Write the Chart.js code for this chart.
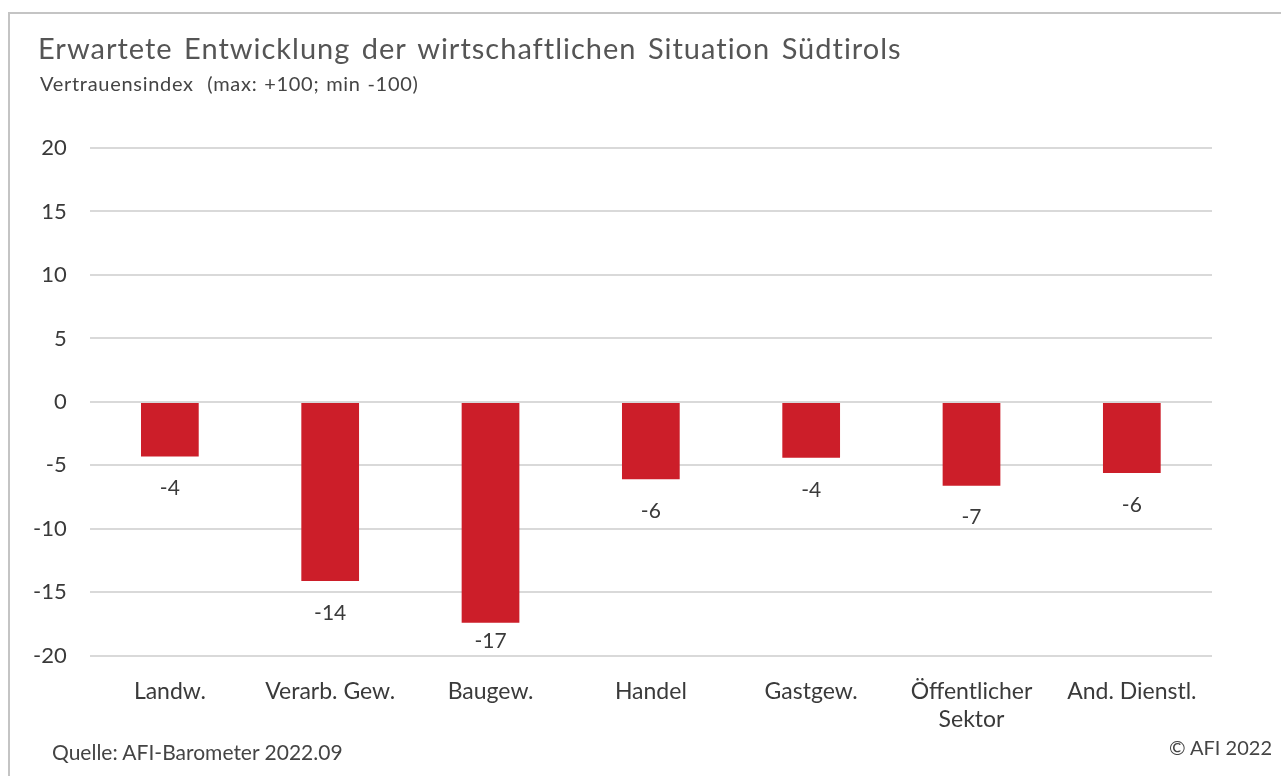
<!DOCTYPE html>
<html>
<head>
<meta charset="utf-8">
<script src="https://cdn.jsdelivr.net/npm/chart.js@4/dist/chart.umd.min.js"></script>
<style>
  html, body { margin: 0; padding: 0; background: #fff; }
  #wrap { position: relative; width: 1281px; height: 776px; overflow: hidden; font-family: Lato, 'Noto Sans', sans-serif; }
  #frame { position: absolute; left: 8px; top: 12px; width: 1290px; height: 800px; border-top: 2px solid #c4c4c4; border-left: 2px solid #c4c4c4; }
  #title { position: absolute; left: 38px; top: 30px; font-size: 29px; letter-spacing: 1px; word-spacing: 3px; color: #555; white-space: nowrap; }
  #subtitle { position: absolute; left: 40px; top: 71px; font-size: 20px; letter-spacing: 0.7px; word-spacing: 1px; color: #444; white-space: nowrap; }
  #source { position: absolute; left: 52px; top: 739px; font-size: 21px; color: #444; }
  #copy { position: absolute; right: 9px; top: 735px; font-size: 20px; color: #444; }
  canvas { position: absolute; left: 0; top: 0; }
</style>
</head>
<body>
<div id="wrap">
  <div id="frame"></div>
  <canvas id="chart" width="1281" height="776"></canvas>
  <div id="title">Erwartete Entwicklung der wirtschaftlichen Situation Südtirols</div>
  <div id="subtitle">Vertrauensindex&nbsp; (max: +100; min -100)</div>
  <div id="source">Quelle: AFI-Barometer 2022.09</div>
  <div id="copy">© AFI 2022</div>
</div>
<script>
const categories = ['Landw.', 'Verarb. Gew.', 'Baugew.', 'Handel', 'Gastgew.', ['Öffentlicher', 'Sektor'], 'And. Dienstl.'];
const values = [-4.3, -14.1, -17.4, -6.1, -4.4, -6.6, -5.6];
const labelValues = [-4, -14, -17, -6, -4, -7, -6];
const yTicks = [-20, -15, -10, -5, 0, 5, 10, 15, 20];

const BAR_RED = '#cc1e29';
const TEXT = '#3a3a3a';

// draws the rounded value under each bar, kept above the bottom gridline
const valueLabels = {
  id: 'valueLabels',
  afterDatasetsDraw(chart) {
    const { ctx, chartArea } = chart;
    const meta = chart.getDatasetMeta(0);
    ctx.save();
    ctx.font = '21px Lato, "Noto Sans", sans-serif';
    ctx.fillStyle = TEXT;
    ctx.textAlign = 'center';
    ctx.textBaseline = 'middle';
    meta.data.forEach((bar, i) => {
      const y = Math.min(bar.y + 32, chartArea.bottom - 15);
      ctx.fillText(String(labelValues[i]), bar.x, y);
    });
    ctx.restore();
  },
};

new Chart(document.getElementById('chart'), {
  type: 'bar',
  data: {
    labels: categories,
    datasets: [{
      data: values,
      backgroundColor: BAR_RED,
      borderWidth: 0,
      barPercentage: 0.36,
      categoryPercentage: 1,
    }],
  },
  options: {
    responsive: false,
    animation: false,
    layout: { padding: { left: 10, right: 69, top: 148, bottom: 29 } },
    plugins: { legend: { display: false }, tooltip: { enabled: false } },
    scales: {
      x: {
        grid: { display: false },
        border: { display: false },
        ticks: { color: TEXT, font: { size: 23, family: 'Lato' }, padding: 14, maxRotation: 0, autoSkip: false },
      },
      y: {
        min: -20,
        max: 20,
        afterBuildTicks: (axis) => { axis.ticks = yTicks.map(v => ({ value: v })); },
        grid: { color: '#d9d9d9', lineWidth: 2, drawTicks: false },
        border: { display: false },
        ticks: { color: TEXT, font: { size: 22, family: 'Lato' }, padding: 23 },
      },
    },
  },
  plugins: [valueLabels],
});
</script>
</body>
</html>
